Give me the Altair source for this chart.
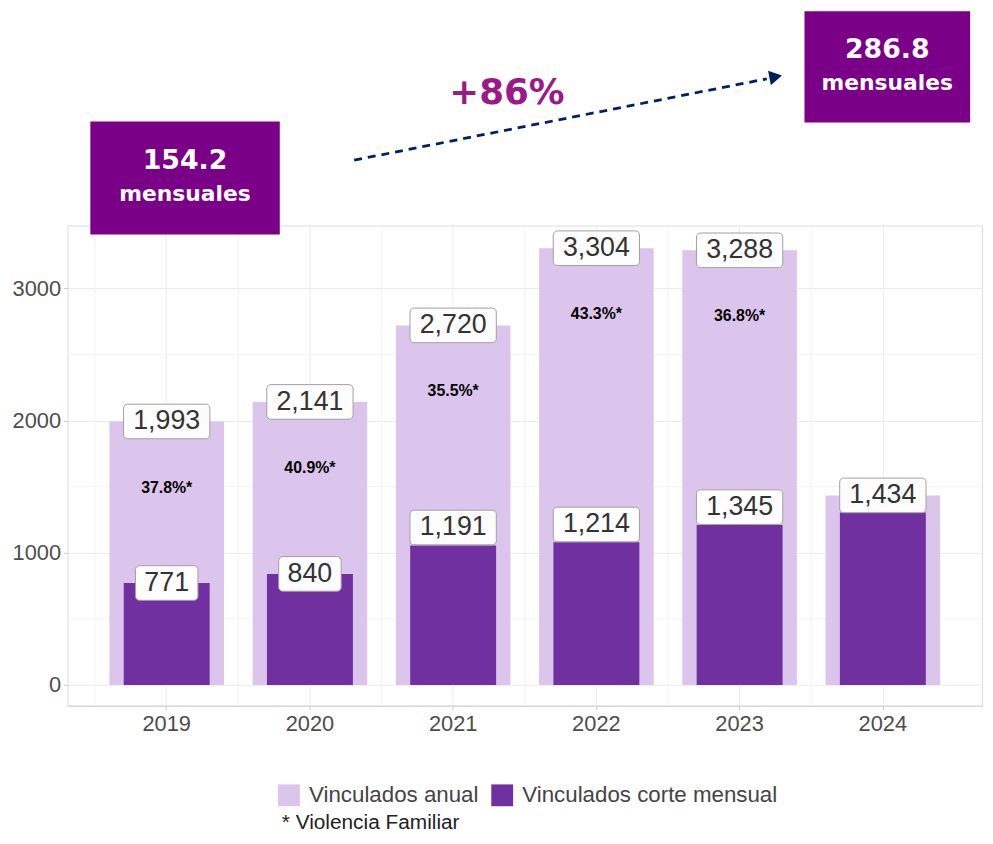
import altair as alt
import pandas as pd

# ---------------- data ----------------
years = ["2019", "2020", "2021", "2022", "2023", "2024"]
anual = [1993, 2141, 2720, 3304, 3288, 1434]            # Vinculados anual (bar height)
mensual = [771, 840, 1055, 1080, 1210, 1305]            # Vinculados corte mensual (bar height)
mensual_labels = [771, 840, 1191, 1214, 1345]           # printed monthly labels 2019-2023
pct_vf = ["37.8%", "40.9%", "35.5%", "43.3%", "36.8%"]  # share Violencia Familiar
series = ["Vinculados anual", "Vinculados corte mensual"]
promedio_mensual = [154.2, 286.8]
crecimiento = "+86%"
nota = "* Violencia Familiar"
y_ticks = [0, 1000, 2000, 3000]
y_minor = [500, 1500, 2500]

LIGHT = "#DCC5EC"
DARK = "#7030A0"
BOXC = "#7B0088"
PINK = "#9A1A8A"
NAVY = "#002060"
FONT = "Liberation Sans"
BOLDFONT = "DejaVu Sans"

bars = pd.DataFrame({
    "year": years * 2,
    "serie": [series[0]] * len(years) + [series[1]] * len(years),
    "v": anual + mensual,
})
labels = pd.DataFrame({"year": years + years[:5], "v": anual + mensual_labels})
pct = pd.DataFrame({"year": years[:5], "top": anual[:5], "txt": [p + "*" for p in pct_vf]})

xscale = alt.Scale(domain=years, paddingInner=0, paddingOuter=0.1925)
yscale = alt.Scale(domain=[-157, 3475], nice=False, zero=False)
cscale = alt.Scale(domain=series, range=[LIGHT, DARK])

x_axis = alt.Axis(labelAngle=0, labelFontSize=22, labelColor="#4d4d4d", labelFont=FONT,
                  grid=True, gridColor="#ebebeb", domainColor="#d0d0d0",
                  tickColor="#cccccc", tickSize=4, labelPadding=4, title=None)
y_axis = alt.Axis(values=y_ticks, format="d", labelFontSize=22, labelColor="#4d4d4d", labelFont=FONT,
                  grid=True, gridColor="#ebebeb", domain=False,
                  tickColor="#cccccc", tickSize=4, labelPadding=3, title=None)

X = alt.X("year:N", scale=xscale, axis=x_axis)

# minor grid (drawn first, under the bars)
minor_h = alt.Chart(pd.DataFrame({"v": y_minor})).mark_rule(color="#f4f4f4", strokeWidth=1).encode(
    y=alt.Y("v:Q", scale=yscale, axis=y_axis))
minor_v = alt.Chart(pd.DataFrame({"year": years})).mark_rule(color="#f4f4f4", strokeWidth=1).encode(
    x=alt.X("year:N", scale=xscale, axis=x_axis, bandPosition=0))

legend = alt.Legend(orient="none", legendX=212, legendY=563, direction="horizontal",
                    title=None, symbolType="square", symbolSize=484, symbolStrokeWidth=0,
                    labelFontSize=22.5, labelColor="#444444", labelFont=FONT, labelLimit=0,
                    labelOffset=9, columnPadding=12, padding=0)

light = alt.Chart(bars).transform_filter(alt.datum.serie == series[0]).mark_bar(
    width=alt.RelativeBandSize(0.8)).encode(
    x=X,
    y=alt.Y("v:Q", scale=yscale, axis=y_axis),
    color=alt.Color("serie:N", scale=cscale, legend=legend),
)
dark = alt.Chart(bars).transform_filter(alt.datum.serie == series[1]).mark_bar(
    width=alt.RelativeBandSize(0.6)).encode(
    x=X,
    y=alt.Y("v:Q", scale=yscale, axis=y_axis),
    color=alt.Color("serie:N", scale=cscale, legend=legend),
)

def boxes(cond, w):
    return alt.Chart(labels).transform_filter(cond).transform_calculate(
        lo="datum.v - 131", hi="datum.v + 131").mark_bar(
        width=w, fill="#fdfdfd", stroke="#a0a0a0", strokeWidth=1, cornerRadius=4).encode(
        x=X,
        y=alt.Y("lo:Q", scale=yscale, axis=y_axis),
        y2="hi:Q",
    )

box_small = boxes("datum.v < 1000", 63)
box_big = boxes("datum.v >= 1000", 87)

label_text = alt.Chart(labels).mark_text(fontSize=27, color="#333333", font=FONT, baseline="middle").encode(
    x=X,
    y=alt.Y("v:Q", scale=yscale, axis=y_axis),
    text=alt.Text("v:Q", format=","),
)

pct_text = alt.Chart(pct).transform_calculate(py="datum.top - 500").mark_text(
    fontSize=16, fontWeight="bold", color="#000000", font=FONT, baseline="middle").encode(
    x=X,
    y=alt.Y("py:Q", scale=yscale, axis=y_axis),
    text="txt:N",
)

# ---------------- annotations (above the plot) ----------------
one = pd.DataFrame({"k": [0]})
box1 = alt.Chart(one).mark_rect(color=BOXC).encode(
    x=alt.value(23), x2=alt.value(214), y=alt.value(-105), y2=alt.value(9))
box2 = alt.Chart(one).mark_rect(color=BOXC).encode(
    x=alt.value(743), x2=alt.value(910), y=alt.value(-216), y2=alt.value(-104))

def txt(t, xv, yv, size, color="white"):
    return alt.Chart(pd.DataFrame({"t": [t]})).mark_text(
        fontSize=size, fontWeight="bold", color=color, font=BOLDFONT, baseline="middle").encode(
        x=alt.value(xv), y=alt.value(yv), text="t:N")

t1a = txt(f"{promedio_mensual[0]}", 118.5, -65, 27)
t1b = txt("mensuales", 118.5, -32, 22)
t2a = txt(f"{promedio_mensual[1]}", 826.5, -177, 27)
t2b = txt("mensuales", 826.5, -144, 22)
t3 = txt(crecimiento, 443, -134, 36, PINK)

arrow = alt.Chart(one).mark_rule(color=NAVY, strokeWidth=2.8, strokeDash=[8, 6]).encode(
    x=alt.value(289), y=alt.value(-66), x2=alt.value(705), y2=alt.value(-148))
head = alt.Chart(one).mark_point(shape="triangle-right", filled=True, size=220, angle=349,
                                  color=NAVY, opacity=1).encode(x=alt.value(714), y=alt.value(-150))

foot = alt.Chart(pd.DataFrame({"t": [nota]})).mark_text(
    fontSize=21, color="#222222", font=FONT, align="left", baseline="middle").encode(
    x=alt.value(216), y=alt.value(602), text="t:N")

chart = alt.layer(
    minor_h, minor_v, light, dark, pct_text, box_small, box_big, label_text,
    arrow, head, box1, box2, t1a, t1b, t2a, t2b, t3, foot,
).properties(
    width=922, height=484,
    autosize=alt.AutoSizeParams(type="none"),
    padding={"left": 60, "top": 216, "right": 3, "bottom": 128},
).configure_view(stroke="#e3e3e3", strokeWidth=1).configure(background="white")

chart.save("out.html", embed_options={"renderer": "svg", "actions": False})
